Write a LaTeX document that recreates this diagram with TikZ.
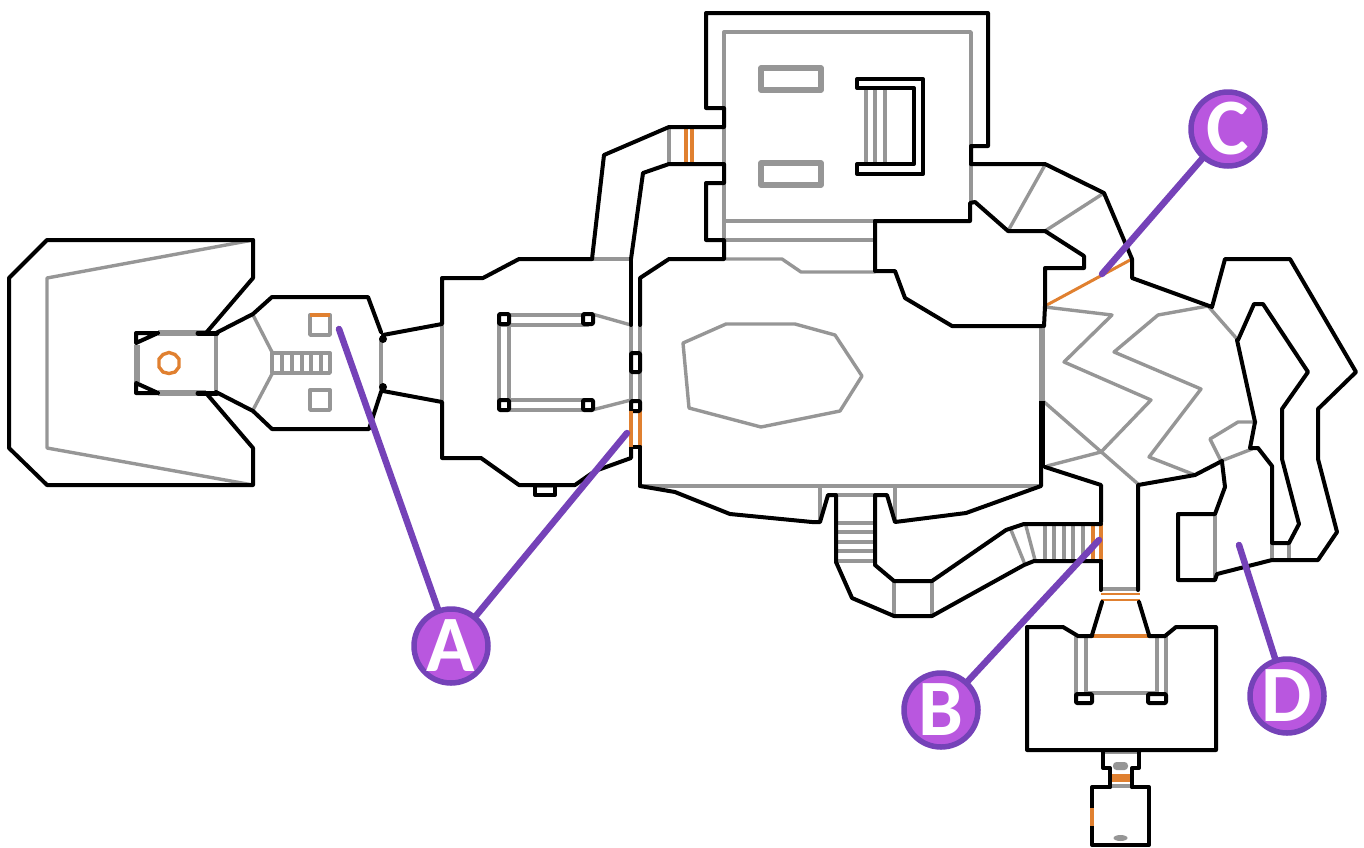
\documentclass[tikz,border=0pt]{standalone}
\usepackage{fontspec}
\setmainfont{Open Sans}
\newfontfamily\callfont{Carlito}
\definecolor{wallk}{HTML}{000000}
\definecolor{stepg}{HTML}{969696}
\definecolor{doorc}{HTML}{E08030}
\definecolor{callf}{HTML}{B957DF}
\definecolor{calld}{HTML}{7542B8}
\tikzset{
  wall/.style={draw=wallk,line width=4pt,line join=round,line cap=round},
  ledge/.style={draw=stepg,line width=3.4pt,line join=round,line cap=round},
  thick ledge/.style={draw=stepg,line width=6pt,line join=round},
  door/.style={draw=doorc,line width=3.4pt},
  lead/.style={draw=calld,line width=6.5pt,line cap=round},
  callout/.style={circle,draw=calld,fill=callf,line width=5.5pt,minimum size=74pt,inner sep=0pt,text=white,font=\callfont\bfseries\fontsize{80}{80}\selectfont}
}
\begin{document}
\begin{tikzpicture}[x=1pt,y=-1pt]
\useasboundingbox (0,0) rectangle (1364,847);
% ---- grey lines
% west court
\draw[ledge] (253,240) -- (47,278) -- (47,448) -- (253,485);
\draw[thick ledge] (137,345) -- (137,382);
\draw[thick ledge] (158,333) -- (206,333);
\draw[thick ledge] (158,393) -- (206,393);
\draw[ledge] (216,335) -- (216,391);
\draw[door] (169,352.5) -- (175,354.5) -- (179,359) -- (179,367) -- (175,372) -- (169,373.5) -- (163,372) -- (159,367) -- (159,359) -- (163,354.5) -- cycle;
% antechamber
\draw[ledge] (253,315) -- (272,352) -- (272,374) -- (253,410);
\draw[ledge] (272,353) rectangle (330,373);
\foreach \x in {282,292,302,311,321} \draw[ledge] (\x,353) -- (\x,373);
\draw[ledge] (310,315) rectangle (330,335);
\draw[ledge] (310,390) rectangle (330,410);
\draw[door] (310,315) -- (330,315);
\draw[ledge] (381,340) -- (381,390);
\draw[ledge] (442,325) -- (442,401);
% hall with pillars
\draw[ledge] (502,315) -- (588,315);
\draw[ledge] (502,325) -- (588,325);
\draw[ledge] (502,400) -- (588,400);
\draw[ledge] (502,410) -- (588,410);
\draw[ledge] (499,318) -- (499,408);
\draw[ledge] (509,318) -- (509,408);
\draw[ledge] (592,314) -- (631,325);
\draw[ledge] (592,410) -- (631,400);
\draw[ledge] (631,325) -- (631,402);
\draw[ledge] (640,325) -- (640,402);
\draw[ledge] (592,259) -- (631,259);
\draw[door] (631,411) -- (631,447);
\draw[door] (640,411) -- (640,449);
\draw[ledge] (535,486) -- (552,486);
% north connector
\draw[ledge] (669,127) -- (669,163);
\draw[door] (686,129) -- (686,162);
\draw[door] (692,129) -- (692,162);
% big north room
\draw[ledge] (724,127) -- (724,32) -- (971,32) -- (971,146);
\draw[ledge] (724,127) -- (724,240);
\draw[ledge] (971,165) -- (971,202);
\draw[ledge] (724,221) -- (875,221);
\draw[ledge] (724,240) -- (875,240);
\draw[ledge] (726,259) -- (782,259) -- (801,272) -- (875,272);
\draw[line width=5.5pt,draw=stepg,line join=round] (761,68) rectangle (821,90);
\draw[line width=5.5pt,draw=stepg,line join=round] (761,163) rectangle (821,185);
\foreach \x in {866,875,885} \draw[ledge] (\x,88) -- (\x,164);
% central room
\draw[ledge] (683,343) -- (726,324) -- (795,324) -- (835,335) -- (862,376) -- (840,411) -- (761,427) -- (689,408) -- cycle;
\draw[ledge] (640,486) -- (1041,486);
\draw[ledge] (820,486) -- (820,522);
\draw[ledge] (895,486) -- (895,522);
\draw[ledge] (837,495) -- (875,495);
\foreach \y in {523,532,542,551,561} \draw[ledge] (837,\y) -- (875,\y);
\draw[ledge] (894,581) -- (894,616);
\draw[ledge] (932,581) -- (932,616);
% east corridor steps
\draw[ledge] (1011,530) -- (1024,562);
\draw[ledge] (1026,526) -- (1035,560);
\foreach \x in {1045,1054,1064,1073,1083} \draw[ledge] (\x,524) -- (\x,560);
\draw[door] (1093,522) -- (1093,561);
\draw[door] (1101,523) -- (1101,561);
% NE ledges
\draw[ledge] (1045,165) -- (1008,231);
\draw[ledge] (1104,193) -- (1045,231);
\draw[door,line width=3pt] (1045,306) -- (1132,259);
% cavern
\draw[thick ledge] (1042,327) -- (1042,401);
\draw[ledge] (1045,307) -- (1112,315) -- (1064,362) -- (1151,400) -- (1101,452) -- (1047,466);
\draw[ledge] (1043,401) -- (1138,484);
\draw[ledge] (1208,306) -- (1158,315) -- (1114,352) -- (1201,389) -- (1149,457) -- (1195,475);
\draw[ledge] (1208,306) -- (1237,339);
\draw[ledge] (1256,422) -- (1238,422) -- (1210,439) -- (1221,461) -- (1252,449);
% south door
\draw[ledge,line width=4pt] (1103,589) -- (1138,589);
\draw[door,line width=2.8pt] (1101,594) -- (1140,594);
\draw[door,line width=2.8pt] (1101,600) -- (1140,600);
\draw[door,line width=4pt] (1092,636) -- (1149,636);
\draw[ledge] (1076,637) -- (1076,694);
\draw[ledge] (1086,637) -- (1086,694);
\draw[ledge] (1157,637) -- (1157,694);
\draw[ledge] (1166,637) -- (1166,694);
\draw[ledge] (1088,693) -- (1155,693);
\draw[ledge,line width=5pt] (1103,751) -- (1139,751);
\fill[stepg,rounded corners=3.5pt] (1113,762) rectangle (1128,770);
\draw[draw=doorc,line width=8pt] (1111,778) -- (1130,778);
\draw[ledge] (1112,786) -- (1130,786);
\fill[stepg] (1120.5,838) ellipse (7pt and 3pt);
% far east
\draw[ledge] (1215,515) -- (1215,580);
\draw[ledge] (1272,543) -- (1272,560);
\draw[ledge] (1289,543) -- (1289,560);
% ---- black walls
% west court
\draw[wall] (253,240) -- (47,240) -- (9,278) -- (9,448) -- (47,485) -- (253,485) -- (253,448) -- (206,393);
\draw[wall] (253,240) -- (253,278) -- (206,333);
\draw[wall] (158,333) -- (136,333) -- (136,343) -- (158,333);
\draw[wall] (158,393) -- (136,393) -- (136,383) -- (158,393);
\draw[wall,line width=5pt] (198,333) -- (217,333);
\draw[wall,line width=5pt] (198,393) -- (217,393);
\draw[wall] (216,333) -- (253,314) -- (272,297) -- (368,297) -- (381,332);
\draw[wall] (216,392) -- (253,411) -- (272,429) -- (369,429) -- (381,392);
\fill (383,339) circle (4pt);
\fill (383,387) circle (4pt);
\draw[wall] (383,335) -- (442,324) -- (442,278) -- (483,278) -- (519,259) -- (592,259);
\draw[wall] (383,391) -- (442,402) -- (442,458) -- (481,458) -- (519,485) -- (575,485) -- (595,471) -- (631,458) -- (631,447);
\draw[wall] (535,485) -- (535,495) -- (555,495) -- (555,485);
% pillars
\foreach \p in {(504,319),(588,319),(504,405),(588,405)} {
  \draw[wall,rounded corners=1pt,fill=white] \p ++(-5,-5) rectangle ++(10,10);
}
\draw[wall,rounded corners=1pt,fill=white] (631,353) rectangle (640,372);
\draw[wall,rounded corners=1pt,fill=white] (631,401) rectangle (640,411);
% north connector
\draw[wall] (592,259) -- (604,155) -- (669,127) -- (724,127) -- (724,108) -- (706,108) -- (706,13) -- (988,13) -- (988,146) -- (971,146) -- (971,164);
\draw[wall] (631,259) -- (643,173) -- (669,164) -- (724,164) -- (724,183) -- (706,183) -- (706,240) -- (724,240) -- (724,259) -- (669,259) -- (640,278) -- (640,325);
\draw[wall] (631,259) -- (631,325);
\draw[wall] (640,447) -- (640,486);
\draw[wall] (631,447) -- (640,447);
% inner throne
\draw[wall,line join=round] (857,88) -- (857,79) -- (923,79) -- (923,174) -- (857,174) -- (857,164) -- (914,164) -- (914,88) -- cycle;
% north room east side
\draw[wall] (875,221) -- (970,221) -- (970,203) -- (975,202) -- (1008,231) -- (1045,231);
\draw[wall] (971,164) -- (1045,164) -- (1104,193) -- (1132,259) -- (1132,278) -- (1212,307) -- (1225,259) -- (1290,259) -- (1356,372) -- (1318,409) -- (1318,459) -- (1337,532) -- (1318,560) -- (1272,560) -- (1217,574) -- (1215,580) -- (1178,580) -- (1178,514) -- (1215,514) -- (1225,487) -- (1222,462);
\draw[wall] (1045,231) -- (1084,256) -- (1084,268) -- (1045,268) -- (1045,306);
\draw[wall] (875,221) -- (875,271) -- (895,271) -- (905,298) -- (952,326) -- (1042,326);
% central lower wall
\draw[wall] (640,486) -- (675,492) -- (730,514) -- (812,522) -- (820,522) -- (828,495) -- (836,495) -- (836,562);
\draw[wall] (1045,306) -- (1044,326);
\draw[wall,line width=6pt,line cap=butt] (1042,401) -- (1042,467);
\draw[wall] (1041,466) -- (1041,486) -- (966,513) -- (895,522) -- (887,495) -- (875,495) -- (875,565) -- (894,581) -- (932,581) -- (1006,530) -- (1024,524) -- (1101,524) ;
\draw[wall] (836,562) -- (852,598) -- (894,616) -- (932,616) -- (1024,565) -- (1034,561) -- (1101,561);
% east cavern
\draw[wall] (1045,467) -- (1101,485) -- (1101,522);
\draw[wall] (1101,561) -- (1101,590);
\draw[wall] (1138,590) -- (1138,485) -- (1195,475) -- (1222,461);
\draw[wall] (1237,340) -- (1255,422) -- (1250,448) -- (1258,448) -- (1272,466) -- (1272,543) -- (1289,543) -- (1299,524) -- (1282,459) -- (1282,409) -- (1308,372) -- (1263,304) -- (1254,304) -- (1238,340);
% south room
\draw[wall] (1102,602) -- (1092,635) -- (1092,636) -- (1078,636) -- (1063,627) -- (1027,627) -- (1027,750) -- (1216,750) -- (1216,627) -- (1176,627) -- (1165,636) -- (1149,636) -- (1149,635) -- (1139,602);
\draw[wall,fill=white,rounded corners=1pt] (1076,694) rectangle (1092,703);
\draw[wall,fill=white,rounded corners=1pt] (1148,694) rectangle (1166,703);
\draw[wall] (1103,751) -- (1103,768) -- (1110,768) -- (1110,787);
\draw[wall] (1139,751) -- (1139,768) -- (1132,768) -- (1132,787);
\draw[wall] (1110,787) -- (1092,787) -- (1092,845) -- (1149,845) -- (1149,787) -- (1132,787);
% doors over the wall
\draw[door] (1092,808) -- (1092,826);
\draw[door] (631,411) -- (631,447);
% ---- callouts
\node[callout] (A) at (451,646) {A};
\node[callout] (B) at (941,710) {B};
\node[callout] (C) at (1228,129) {C};
\node[callout] (D) at (1287,696) {D};
\coordinate (a1) at (339,329);
\coordinate (a2) at (627,433);
\coordinate (b1) at (1099,540);
\coordinate (c1) at (1102,274);
\coordinate (d1) at (1239,545);
\draw[lead] (a1) -- (A);
\draw[lead] (a2) -- (A);
\draw[lead] (b1) -- (B);
\draw[lead] (c1) -- (C);
\draw[lead] (d1) -- (D);
\end{tikzpicture}
\end{document}
